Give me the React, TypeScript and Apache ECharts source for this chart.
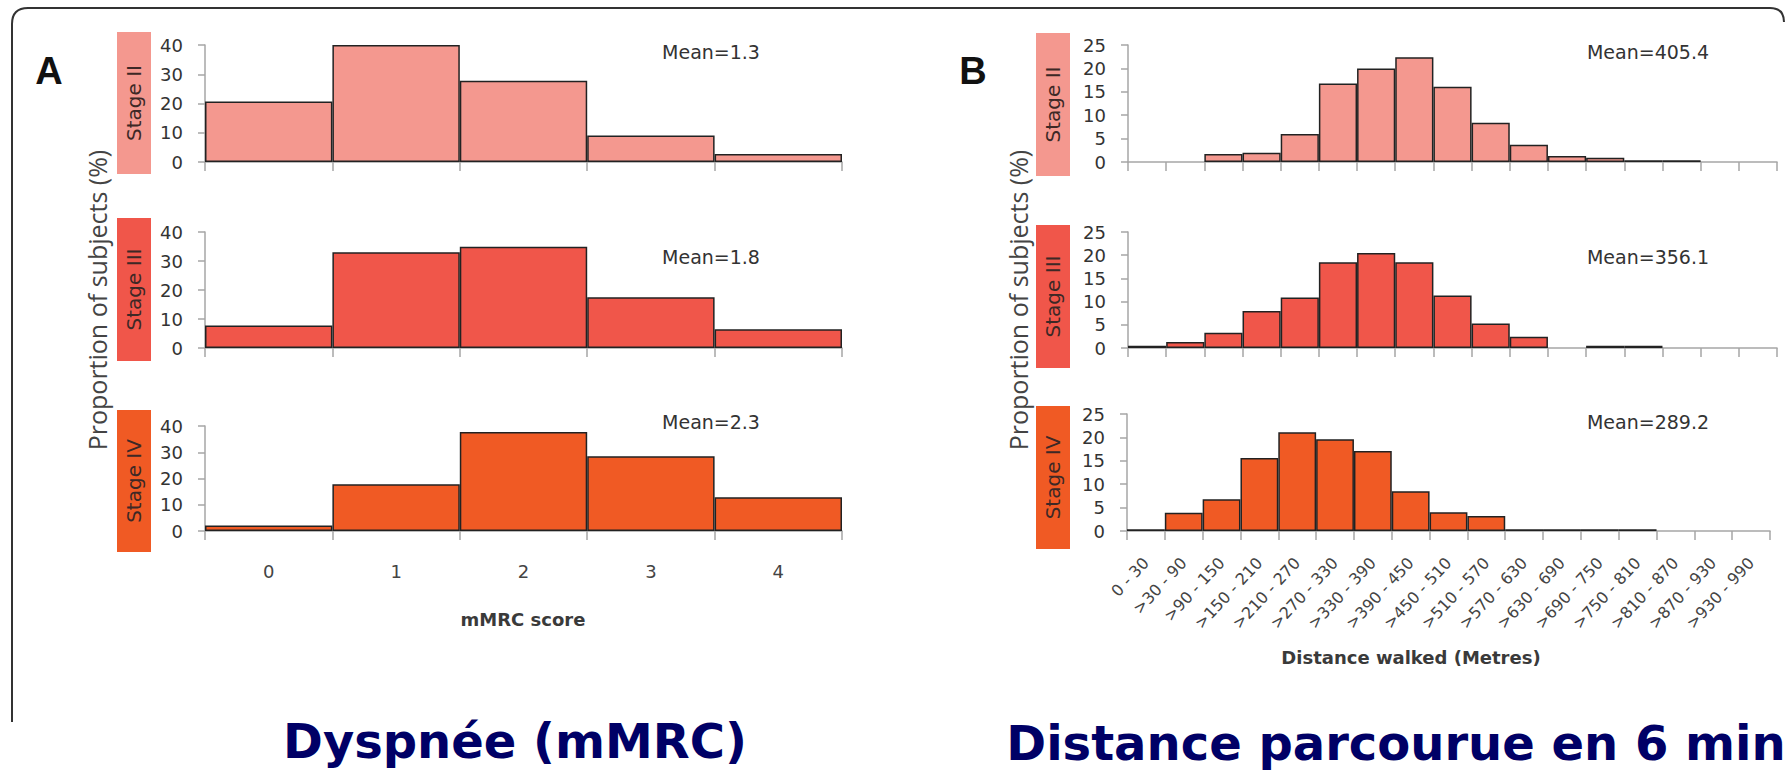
import React, { useEffect, useRef } from "react";
import * as echarts from "echarts";

const scoreBins = ["0", "1", "2", "3", "4"];
const dyspStageII = [20.7, 40, 27.8, 9.1, 2.7];
const dyspStageIII = [7.8, 33.0, 34.9, 17.5, 6.5];
const dyspStageIV = [2.1, 17.8, 37.7, 28.5, 12.9];

const distBins = [
  "0 - 30", ">30 - 90", ">90 - 150", ">150 - 210", ">210 - 270", ">270 - 330",
  ">330 - 390", ">390 - 450", ">450 - 510", ">510 - 570", ">570 - 630",
  ">630 - 690", ">690 - 750", ">750 - 810", ">810 - 870", ">870 - 930", ">930 - 990",
];
const distStageII = [0, 0, 1.7, 2.0, 6.0, 16.8, 20.0, 22.4, 16.1, 8.4, 3.7, 1.3, 0.9, 0.4, 0.4, 0, 0];
const distStageIII = [0.5, 1.3, 3.3, 8.0, 10.9, 18.5, 20.5, 18.5, 11.3, 5.3, 2.4, 0, 0.5, 0.5, 0, 0, 0];
const distStageIV = [0.4, 3.9, 6.8, 15.6, 21.1, 19.6, 17.1, 8.5, 4.0, 3.2, 0.4, 0.4, 0.4, 0.4, 0, 0, 0];

const stageNames = ["Stage II", "Stage III", "Stage IV"];
const meansA = ["Mean=1.3", "Mean=1.8", "Mean=2.3"];
const meansB = ["Mean=405.4", "Mean=356.1", "Mean=289.2"];
const stageColors = ["#F4988F", "#F0564A", "#F05A24"];

const FONT = "'DejaVu Sans', sans-serif";

export default function App() {
  const ref = useRef<HTMLDivElement>(null);
  useEffect(() => {
    if (!ref.current) return;
    echarts.graphic.registerShape(
      "frame",
      echarts.graphic.extendPath("M12 722 L12 24 Q12 8 28 8 L1770 8 Q1784 8 1784 22", {})
    );
    const chart = echarts.init(ref.current, null, { renderer: "svg" });

    const grids = [
      { left: 205, top: 45, width: 637, height: 117 },
      { left: 205, top: 232, width: 637, height: 116 },
      { left: 205, top: 426, width: 637, height: 105 },
      { left: 1128, top: 45, width: 649, height: 117 },
      { left: 1128, top: 232, width: 649, height: 116 },
      { left: 1127, top: 414, width: 643, height: 117 },
    ];
    const seriesData = [dyspStageII, dyspStageIII, dyspStageIV, distStageII, distStageIII, distStageIV];
    const axisColor = "#a6a6a6";

    const xAxis = grids.map((_, i) => {
      const isB = i >= 3;
      const bottom = i === 2 || i === 5;
      return {
        type: "category",
        gridIndex: i,
        data: isB ? distBins : scoreBins,
        boundaryGap: true,
        axisLine: { show: true, lineStyle: { color: axisColor, width: 1.5 } },
        axisTick: { show: true, length: 9, interval: 0, lineStyle: { color: axisColor, width: 1.5 } },
        axisLabel: bottom
          ? isB
            ? { show: true, interval: 0, rotate: 47, fontSize: 16, color: "#444", margin: 29, fontFamily: FONT }
            : { show: true, interval: 0, fontSize: 18, color: "#444", margin: 31, fontFamily: FONT }
          : { show: false },
        splitLine: { show: false },
      };
    });
    const yAxis = grids.map((_, i) => {
      const isB = i >= 3;
      return {
        type: "value",
        gridIndex: i,
        min: 0,
        max: isB ? 25 : 40,
        interval: isB ? 5 : 10,
        axisLine: { show: true, lineStyle: { color: axisColor, width: 1.5 } },
        axisTick: { show: true, length: 7, lineStyle: { color: axisColor, width: 1.5 } },
        axisLabel: { fontSize: 18, color: "#333", margin: 22, fontFamily: FONT },
        splitLine: { show: false },
      };
    });
    const series = seriesData.map((arr, i) => ({
      type: "bar",
      xAxisIndex: i,
      yAxisIndex: i,
      barCategoryGap: "0%",
      data: arr.map((v) => (v === 0 ? "-" : v)),
      itemStyle: { color: stageColors[i % 3], borderColor: "#222", borderWidth: 1.5 },
      silent: true,
    }));

    const boxesA = [
      { y: 32, h: 142 },
      { y: 218, h: 143 },
      { y: 410, h: 142 },
    ];
    const boxesB = [
      { y: 33, h: 143 },
      { y: 225, h: 143 },
      { y: 406, h: 143 },
    ];
    const meanY = [52, 257, 422];

    const graphic: any[] = [
      { type: "frame", x: 0, y: 0, style: { fill: "none", stroke: "#333", lineWidth: 2 } },
      { type: "text", x: 49, y: 71, style: { text: "A", font: "bold 38px 'Liberation Sans', sans-serif", fill: "#111", textAlign: "center", textVerticalAlign: "middle" } },
      { type: "text", x: 973, y: 71, style: { text: "B", font: "bold 38px 'Liberation Sans', sans-serif", fill: "#111", textAlign: "center", textVerticalAlign: "middle" } },
      { type: "text", x: 97, y: 300, rotation: Math.PI / 2, style: { text: "Proportion of subjects (%)", font: "25px 'Open Sans', sans-serif", fill: "#444", textAlign: "center", textVerticalAlign: "middle" } },
      { type: "text", x: 1018, y: 300, rotation: Math.PI / 2, style: { text: "Proportion of subjects (%)", font: "25px 'Open Sans', sans-serif", fill: "#444", textAlign: "center", textVerticalAlign: "middle" } },
      { type: "text", x: 523, y: 619, style: { text: "mMRC score", font: "bold 18px 'DejaVu Sans', sans-serif", fill: "#3a3a3a", textAlign: "center", textVerticalAlign: "middle" } },
      { type: "text", x: 1411, y: 657, style: { text: "Distance walked (Metres)", font: "bold 18px 'DejaVu Sans', sans-serif", fill: "#3a3a3a", textAlign: "center", textVerticalAlign: "middle" } },
      { type: "text", x: 515, y: 741, style: { text: "Dyspnée (mMRC)", font: "bold 48px 'DejaVu Sans', sans-serif", fill: "#000066", textAlign: "center", textVerticalAlign: "middle" } },
      { type: "text", x: 1396, y: 743, style: { text: "Distance parcourue en 6 min", font: "bold 48px 'DejaVu Sans', sans-serif", fill: "#000066", textAlign: "center", textVerticalAlign: "middle" } },
    ];
    [0, 1, 2].forEach((k) => {
      const a = boxesA[k];
      const b = boxesB[k];
      graphic.push({ type: "rect", shape: { x: 117, y: a.y, width: 34, height: a.h }, style: { fill: stageColors[k] } });
      graphic.push({ type: "text", x: 134, y: a.y + a.h / 2, rotation: Math.PI / 2, style: { text: stageNames[k], font: "20px 'DejaVu Sans', sans-serif", fill: "#3d2826", textAlign: "center", textVerticalAlign: "middle" } });
      graphic.push({ type: "rect", shape: { x: 1036, y: b.y, width: 34, height: b.h }, style: { fill: stageColors[k] } });
      graphic.push({ type: "text", x: 1053, y: b.y + b.h / 2, rotation: Math.PI / 2, style: { text: stageNames[k], font: "20px 'DejaVu Sans', sans-serif", fill: "#3d2826", textAlign: "center", textVerticalAlign: "middle" } });
      graphic.push({ type: "text", x: 711, y: meanY[k], style: { text: meansA[k], font: "19px 'DejaVu Sans', sans-serif", fill: "#333", textAlign: "center", textVerticalAlign: "middle" } });
      graphic.push({ type: "text", x: 1648, y: meanY[k], style: { text: meansB[k], font: "19px 'DejaVu Sans', sans-serif", fill: "#333", textAlign: "center", textVerticalAlign: "middle" } });
    });

    chart.setOption({
      animation: false,
      backgroundColor: "#ffffff",
      grid: grids,
      xAxis,
      yAxis,
      series,
      graphic,
    });
    return () => chart.dispose();
  }, []);
  return (
    <div
      ref={ref}
      style={{ position: "fixed", left: 0, top: 0, width: 1787, height: 770 }}
    />
  );
}
